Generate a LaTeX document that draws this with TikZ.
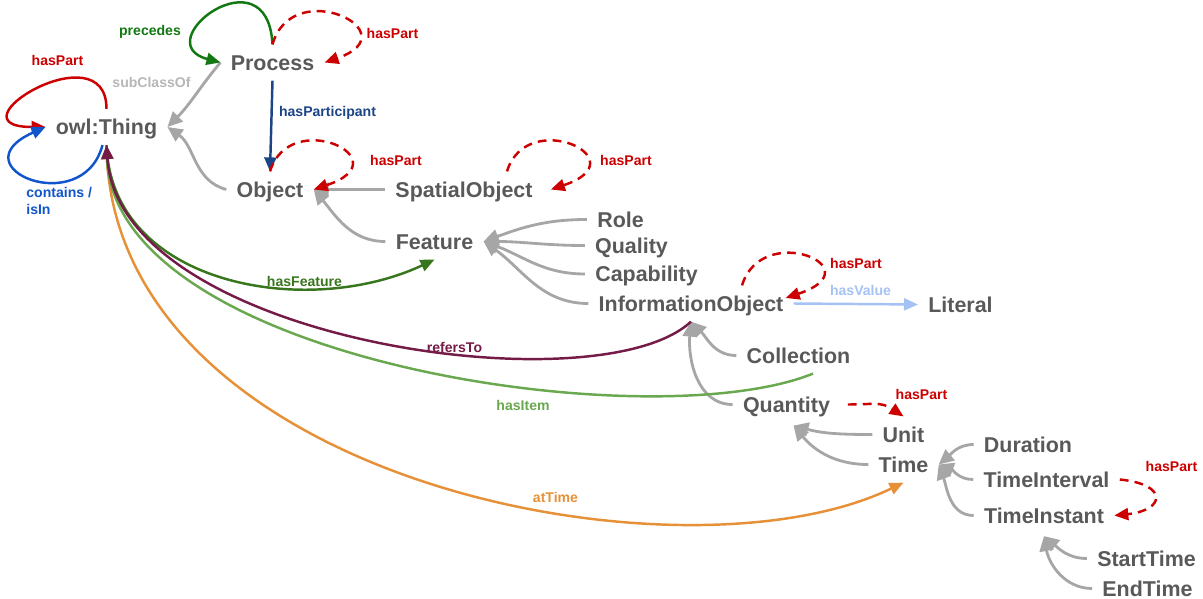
\documentclass[tikz,border=0pt]{standalone}
\usepackage{fontspec}
\setmainfont{Liberation Sans}
\usetikzlibrary{arrows.meta}
\definecolor{cnode}{HTML}{595959}
\definecolor{cgray}{HTML}{A6A6A6}
\definecolor{cred}{HTML}{CC0000}
\definecolor{cprec}{HTML}{127812}
\definecolor{cfeat}{HTML}{38761D}
\definecolor{citem}{HTML}{6AA84F}
\definecolor{crefer}{HTML}{741B47}
\definecolor{ctime}{HTML}{E69138}
\definecolor{cvalue}{HTML}{A4C2F4}
\definecolor{ccontain}{HTML}{1155CC}
\definecolor{cpartic}{HTML}{1C4587}
\definecolor{csublbl}{HTML}{B7B7B7}
\def\lblfont{\fontsize{8}{9.5}\selectfont\bfseries}
\tikzset{
	cls/.style={text=cnode, font=\fontsize{12.2}{14}\selectfont\bfseries, text height=0.31cm, text depth=0cm, inner sep=0.2cm},
	lbl/.style={font=\lblfont, text height=0.2cm, text depth=0cm, inner sep=0pt},
	reltip/.style={-{Triangle[length=0.28cm,width=0.24cm]}},
	subcls/.style={draw=cgray, line width=1.6pt, -{Triangle[length=0.3cm,width=0.28cm]}},
	haspart/.style={draw=cred, line width=1.4pt, dash pattern=on 5pt off 3.5pt, reltip},
	rel/.style={line width=1.4pt, reltip}
}

\begin{document}
\begin{tikzpicture}
		%%%%% START %%%%%
		\useasboundingbox (0, 0) rectangle (24.06, -11.98);
		
		\node[cls] (thing) at (2.13, -2.54) {owl:Thing};
		\node[cls] (process) at (5.45, -1.25) {Process};
		\node[cls] (object) at (5.40, -3.79) {Object};
		\node[cls] (spatial) at (9.28, -3.79) {SpatialObject};
		\node[cls] (feature) at (8.69, -4.83) {Feature};
		\node[cls] (role) at (12.41, -4.39) {Role};
		\node[cls] (quality) at (12.63, -4.91) {Quality};
		\node[cls] (capability) at (12.93, -5.48) {Capability};
		\node[cls] (infoobj) at (13.82, -6.07) {InformationObject};
		\node[cls] (literal) at (19.21, -6.09) {Literal};
		\node[cls] (collection) at (15.97, -7.11) {Collection};
		\node[cls] (quantity) at (15.73, -8.09) {Quantity};
		\node[cls] (unit) at (18.07, -8.69) {Unit};
		\node[cls] (time) at (18.07, -9.29) {Time};
		\node[cls] (duration) at (20.56, -8.89) {Duration};
		\node[cls] (tinterval) at (20.93, -9.59) {TimeInterval};
		\node[cls] (tinstant) at (20.88, -10.31) {TimeInstant};
		\node[cls] (starttime) at (22.93, -11.17) {StartTime};
		\node[cls] (endtime) at (22.95, -11.77) {EndTime};
		
		% subClassOf
		\draw[subcls] (process.west) to[out=230, in=45] (thing.east);
		\draw[subcls] (object.west) to[out=165, in=-35] (thing.east);
		\draw[subcls] (spatial.west) -- (object.east);
		\draw[subcls] (feature.west) to[out=180, in=-50] (object.east);
		\draw[subcls] (role.west) to[out=180, in=20] (feature.east);
		\draw[subcls] (quality.west) to[out=180, in=0] (feature.east);
		\draw[subcls] (capability.west) to[out=180, in=-20] (feature.east);
		\draw[subcls] (infoobj.west) to[out=180, in=-35] (feature.east);
		\draw[subcls] (collection.west) to[out=180, in=-45] (infoobj.south);
		\draw[subcls] (quantity.west) to[out=180, in=-95] (infoobj.south);
		\draw[subcls] (unit.west) to[out=180, in=-15] ([xshift=0.14cm, yshift=-0.06cm]quantity.south);
		\draw[subcls] (time.west) to[out=180, in=-50] ([xshift=0.14cm, yshift=-0.06cm]quantity.south);
		\draw[subcls] (duration.west) to[out=180, in=40] (time.east);
		\draw[subcls] (tinterval.west) to[out=180, in=-20] (time.east);
		\draw[subcls] (tinstant.west) to[out=180, in=-70] (time.east);
		\draw[subcls] (starttime.west) to[out=180, in=-40] ([yshift=-0.05cm]tinstant.south);
		\draw[subcls] (endtime.west) to[out=180, in=-80] ([yshift=-0.05cm]tinstant.south);
		
		% long relations
		\draw[rel, ctime] (thing.south) .. controls +(0.06, -6.7) and +(-4.47, -2.16) .. (time.south);
		\draw[rel, citem] ([xshift=0.29cm]collection.south) .. controls +(-3.26, -1.32) and +(0.16, -4.3) .. (thing.south);
		\draw[rel, cfeat] (thing.south) .. controls +(0.1, -2.8) and +(-2.56, -1.2) .. (feature.south);
		\draw[rel, crefer] (infoobj.south) .. controls +(-1.86, -1.74) and +(0.26, -3.9) .. (thing.south);
		
		% loops
		\draw[rel, cred] (thing.north) .. controls +(0, 1.6) and +(-2, 0) .. (thing.west);
		\draw[rel, ccontain] ([xshift=-0.08cm]thing.south) .. controls +(-0.4, -1.5) and +(-1.8, -0.8) .. (thing.west);
		\draw[rel, cprec] (process.north) .. controls +(-0.1, 1.9) and +(-1.5, 0.4) .. (process.west);
		\draw[haspart] (process.north) .. controls +(0.4, 1.4) and +(1.75, 0.6) .. (process.east);
		\draw[rel, cpartic] (process.south) -- (object.north);
		\draw[haspart] (object.north) .. controls +(0.4, 1.3) and +(1.8, 0.6) .. (object.east);
		\draw[haspart] ([xshift=0.86cm]spatial.north) .. controls +(0.4, 1.3) and +(1.8, 0.6) .. ([xshift=0.16cm]spatial.east);
		\draw[haspart] ([xshift=1.02cm]infoobj.north) .. controls +(0.4, 1.3) and +(1.8, 0.6) .. ([xshift=-0.16cm, yshift=0.11cm]infoobj.east);
		\draw[rel, cvalue] (infoobj.east) -- (literal.west);
		\draw[haspart] ([xshift=0.15cm]quantity.east) .. controls +(0.5, 0) and +(-0.45, 0.3) .. (unit.north);
		\draw[haspart] (tinterval.east) .. controls +(1, -0.1) and +(1, 0.1) .. (tinstant.east);
		
		% labels
		\node[lbl, cred] (lpartthing) at (1.15, -1.20) {hasPart};
		\node[lbl, csublbl] (lsub) at (3.03, -1.65) {subClassOf};
		\node[lbl, cprec] (lprec) at (3.00, -0.60) {precedes};
		\node[lbl, cred] (lpartproc) at (7.85, -0.67) {hasPart};
		\node[lbl, cpartic] (lpartic) at (6.55, -2.22) {hasParticipant};
		\node[font=\lblfont, ccontain, inner sep=0pt, align=left, anchor=base west] (lcontain) at (0.52, -4.28) {contains /\\isIn};
		\node[lbl, cred] (lpartobj) at (7.92, -3.20) {hasPart};
		\node[lbl, cred] (lpartspat) at (12.52, -3.20) {hasPart};
		\node[lbl, cfeat] (lfeat) at (6.09, -5.62) {hasFeature};
		\node[lbl, cred] (lpartinfo) at (17.12, -5.27) {hasPart};
		\node[lbl, cvalue] (lvalue) at (17.21, -5.81) {hasValue};
		\node[lbl, cred] (lpartqty) at (18.43, -7.88) {hasPart};
		\node[lbl, crefer] (lrefer) at (9.09, -6.95) {refersTo};
		\node[lbl, citem] (litem) at (10.46, -8.10) {hasItem};
		\node[lbl, ctime] (ltime) at (11.11, -9.94) {atTime};
		\node[lbl, cred] (lpartti) at (23.43, -9.32) {hasPart};
		
		%%%%% END %%%%%
\end{tikzpicture}
\end{document}
